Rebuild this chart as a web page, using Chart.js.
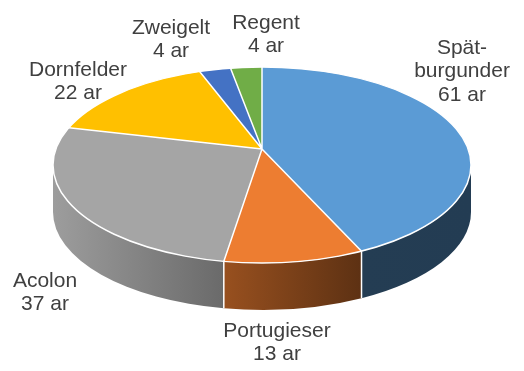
<!DOCTYPE html>
<html>
<head>
<meta charset="utf-8">
<script src="https://cdn.jsdelivr.net/npm/chart.js@4"></script>
<style>
  body { margin: 0; background: #fff; }
  canvas { display: block; }
</style>
</head>
<body>
<canvas id="vineChart" width="524" height="371"></canvas>
<script>
// Rebsorten im Weinberg, Fläche in ar
const varieties = [['Spät-', 'burgunder'], 'Portugieser', 'Acolon', 'Dornfelder', 'Zweigelt', 'Regent'];
const areas = [61, 13, 37, 22, 4, 4];
const unit = 'ar';
const sliceColors = ['#5B9BD5', '#ED7D31', '#A5A5A5', '#FFC000', '#4472C4', '#70AD47'];

// where the tilted pie sits on the page: centre point, half width,
// distance from centre to back rim and to front rim, wall height
const pieView = { cx: 262, cy: 149, rx: 209, ryBack: 82, ryFront: 114, depth: 47 };
// label anchors: centre x and first baseline
const labelSpots = [[462, 54], [277, 337], [45, 287], [78, 76], [171, 34], [266, 29]];

function shade(hex, f) {
  const n = parseInt(hex.slice(1), 16);
  const r = Math.round(((n >> 16) & 255) * f);
  const g = Math.round(((n >> 8) & 255) * f);
  const b = Math.round((n & 255) * f);
  return `rgb(${r},${g},${b})`;
}

// light on the walls comes from the left
function wallLight(x) {
  const u = (x - pieView.cx) / pieView.rx;
  return Math.max(0.39, 0.95 - 0.378 * (u + 1));
}

const pie3d = {
  id: 'pie3d',
  beforeDatasetsDraw(chart) {
    const ctx = chart.ctx;
    const arcs = chart.getDatasetMeta(0).data;
    const { cx, cy, rx, ryBack, ryFront, depth } = pieView;

    // simple perspective: front rim nearer than back rim
    const k = (ryFront - ryBack) / (ryFront + ryBack);
    const F = rx * Math.sqrt(1 - k * k);
    const s = ryFront * (1 - k) / F;
    // the rim then shows as this ellipse
    const ex = cx, ey = cy + (ryFront - ryBack) / 2, ery = (ryFront + ryBack) / 2;
    const rimX = a => cx + F * Math.cos(a) / (1 - k * Math.sin(a));
    const param = x => Math.acos(Math.max(-1, Math.min(1, (x - ex) / rx)));
    const lo = Math.asin(k), hi = Math.PI - lo;

    // front walls, only the part of each slice facing us
    arcs.forEach(arc => {
      const a0 = Math.max(arc.startAngle, lo), a1 = Math.min(arc.endAngle, hi);
      if (a1 <= a0) return;
      const col = arc.options.backgroundColor;
      const xr = rimX(a0), xl = rimX(a1);
      const t0 = param(xr), t1 = param(xl);
      const grad = ctx.createLinearGradient(xl, 0, xr, 0);
      grad.addColorStop(0, shade(col, wallLight(xl)));
      grad.addColorStop(1, shade(col, wallLight(xr)));
      ctx.beginPath();
      ctx.ellipse(ex, ey, rx, ery, 0, t0, t1);
      ctx.ellipse(ex, ey + depth, rx, ery, 0, t1, t0, true);
      ctx.closePath();
      ctx.fillStyle = grad;
      ctx.fill();
    });

    // white seams where two walls meet
    ctx.strokeStyle = '#fff';
    ctx.lineWidth = 1.5;
    arcs.forEach(arc => {
      const a = arc.endAngle;
      if (a <= lo || a >= hi) return;
      const x = rimX(a);
      const y = ey + ery * Math.sin(param(x));
      ctx.beginPath();
      ctx.moveTo(x, y);
      ctx.lineTo(x, y + depth);
      ctx.stroke();
    });

    // top face: chart.js wedges, squashed around the centre point and cut by the rim
    const R = arcs[0].outerRadius, ox = arcs[0].x, oy = arcs[0].y;
    const G = 1.5 * F / R;
    ctx.save();
    ctx.beginPath();
    ctx.ellipse(ex, ey, rx, ery, 0, 0, Math.PI * 2);
    ctx.clip();
    ctx.save();
    ctx.translate(cx, cy);
    ctx.scale(G, G * s);
    ctx.translate(-ox, -oy);
    arcs.forEach(arc => arc.draw(ctx));
    ctx.beginPath();
    arcs.forEach(arc => {
      ctx.moveTo(ox, oy);
      ctx.arc(ox, oy, R, arc.startAngle, arc.endAngle);
      ctx.closePath();
    });
    ctx.restore();
    ctx.strokeStyle = '#fff';
    ctx.lineWidth = 1.5;
    ctx.lineJoin = 'round';
    ctx.stroke();
    ctx.restore();

    ctx.beginPath();
    ctx.ellipse(ex, ey, rx, ery, 0, 0, Math.PI * 2);
    ctx.strokeStyle = '#fff';
    ctx.lineWidth = 1.5;
    ctx.stroke();
    return false;
  }
};

const pieLabels = {
  id: 'pieLabels',
  afterDraw(chart) {
    const ctx = chart.ctx;
    ctx.save();
    ctx.font = '21px "Liberation Sans", Arial, sans-serif';
    ctx.fillStyle = '#404040';
    ctx.textAlign = 'center';
    ctx.textBaseline = 'alphabetic';
    chart.data.labels.forEach((name, i) => {
      const lines = [].concat(name, `${areas[i]} ${unit}`);
      const [x, y] = labelSpots[i];
      lines.forEach((t, k) => ctx.fillText(t, x, y + k * 23.4));
    });
    ctx.restore();
  }
};

new Chart(document.getElementById('vineChart'), {
  type: 'pie',
  data: {
    labels: varieties,
    datasets: [{
      data: areas,
      backgroundColor: sliceColors,
      borderWidth: 0
    }]
  },
  options: {
    responsive: false,
    animation: false,
    devicePixelRatio: 1,
    layout: { padding: 0 },
    plugins: {
      legend: { display: false },
      tooltip: { enabled: false }
    }
  },
  plugins: [pie3d, pieLabels]
});
</script>
</body>
</html>
